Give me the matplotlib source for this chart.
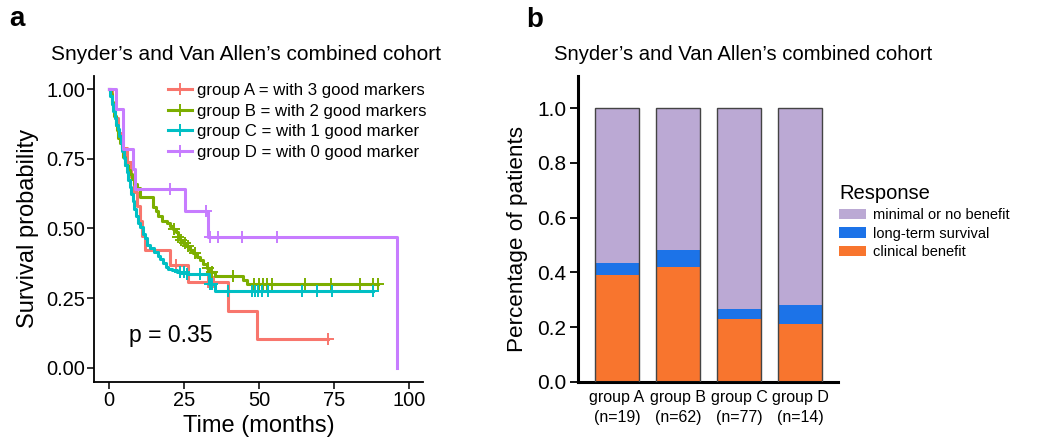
import numpy as np
import matplotlib.pyplot as plt
from matplotlib.lines import Line2D
from matplotlib.patches import Patch

plt.rcParams['font.family'] = ['Liberation Sans', 'DejaVu Sans']

# ---- panel a: Kaplan-Meier steps ----
km_labels = ['group A = with 3 good markers', 'group B = with 2 good markers',
             'group C = with 1 good marker', 'group D = with 0 good marker']
km_colors = ['#F8766D', '#7CAE00', '#00BFC4', '#C77CFF']

times_A = [0, 1, 2, 3, 4.5, 6, 7.5, 8.5, 9.5, 10.3, 11, 12, 20.2, 26.4, 39.8, 49.2]
surv_A = [1, .947, .895, .842, .789, .737, .684, .632, .579, .526, .474, .421, .368, .307, .205, .102]
end_A = 73.1
cens_A = [22.5, 33, 35, 73.1]

times_B = [0, 0.6, 1.0, 1.4, 1.8, 2.2, 2.6, 3.0, 3.6, 4.2, 4.8, 5.3, 6.2, 7.0, 7.6, 8.4, 9.2, 10.3,
           14.8, 15.6, 16.4, 17.8, 19.2, 20.3, 21.4, 22.2, 23.0, 23.8, 24.7, 25.8, 27.0, 28.1,
           29.2, 30.3, 31.4, 32.6, 33.7, 35.3, 44.6, 46.0]
surv_B = [1, .984, .952, .935, .903, .871, .855, .823, .806, .790, .758, .726, .710, .694, .677, .661, .645, .613,
          .578, .561, .545, .528, .518, .508, .497, .486, .470, .459, .447, .436, .423, .411,
          .398, .386, .374, .359, .345, .331, .315, .300]
end_B = 89.8
cens_B = [21.6, 23.1, 24.1, 25.3, 26.4, 28.7, 33.0, 34.5, 41.4, 48.4, 50.0, 51.4, 52.8, 54.4,
          65.5, 74.1, 83.7, 88.1, 89.8]

times_C = [0, 0.5, 1.0, 1.5, 2.0, 2.5, 3.0, 3.5, 4.0, 4.5, 5.0, 5.5, 6.0, 6.5, 7.0, 7.5, 8.0, 8.5,
           9.0, 9.7, 10.5, 11.2, 12.0, 12.8, 13.7, 15.0, 16.2, 17.0, 18.0, 19.0, 19.7, 21.0,
           22.6, 25.9, 33.3, 35.5]
surv_C = [1, .974, .948, .922, .896, .870, .857, .831, .805, .779, .753, .727, .701, .675, .649, .623, .597, .571,
          .545, .519, .506, .480, .467, .441, .428, .415, .402, .389, .376, .363, .356, .350,
          .344, .338, .302, .274]
end_C = 88.0
cens_C = [23.7, 25.0, 26.0, 30.3, 33.6, 34.5, 39.7, 47.6, 48.7, 49.8, 50.9, 53.1, 64.2, 69.2, 74.2, 88.0]

times_D = [0, 2.2, 4.8, 8.0, 8.7, 25.3, 32.9, 96]
surv_D = [1, .929, .786, .714, .643, .563, .469, 0]
end_D = 96
cens_D = [20.5, 32.2, 33.8, 36.4, 44.2, 55.9]

p_text = 'p = 0.35'

# ---- panel b: stacked proportions ----
bar_groups = ['group A\n(n=19)', 'group B\n(n=62)', 'group C\n(n=77)', 'group D\n(n=14)']
clinical = [0.39, 0.42, 0.23, 0.21]
longterm = [0.045, 0.06, 0.035, 0.07]
minimal = [0.565, 0.52, 0.735, 0.72]
resp_labels = ['minimal or no benefit', 'long-term survival', 'clinical benefit']
resp_colors = ['#BBA9D4', '#1C73E8', '#F8752E']

title = 'Snyder\u2019s and Van Allen\u2019s combined cohort'

W, H = 1037, 441
fig = plt.figure(figsize=(W / 100, H / 100), dpi=100)


def fx(px):
    return px / W


def fy(py):
    return 1 - py / H


# panel a
ax = fig.add_axes([fx(94.3), fy(381.7), fx(423) - fx(94.3), fy(76) - fy(381.7)])
groups = [(times_A, surv_A, end_A, cens_A), (times_B, surv_B, end_B, cens_B),
          (times_C, surv_C, end_C, cens_C), (times_D, surv_D, end_D, cens_D)]
for (t, s, e, cz), col in zip(groups, km_colors):
    t = np.array(t, float)
    s = np.array(s, float)
    ax.step(np.append(t, e), np.append(s, s[-1]), where='post', color=col, lw=2.2, zorder=3)
    idx = np.searchsorted(t, cz, side='right') - 1
    ax.plot(cz, s[idx], '+', color=col, ms=8, mew=1.4, zorder=3)

ax.set_xlim(-4.9, 104.7)
ax.set_ylim(-0.05, 1.047)
ax.set_xticks([0, 25, 50, 75, 100])
ax.set_yticks([0, 0.25, 0.5, 0.75, 1.0])
ax.set_yticklabels(['0.00', '0.25', '0.50', '0.75', '1.00'])
for sp in ['top', 'right']:
    ax.spines[sp].set_visible(False)
for sp in ['left', 'bottom']:
    ax.spines[sp].set_linewidth(1.3)
ax.tick_params(labelsize=14.4, length=5, width=1.1, pad=1.5, colors='black')
ax.set_xlabel('Time (months)', fontsize=17)
ax.set_ylabel('Survival probability', fontsize=17)
ax.xaxis.set_label_coords(0.501, -0.108)
ax.yaxis.set_label_coords(-0.168, 0.5)
ax.text(6.7, 0.091, p_text, fontsize=16.6, ha='left', va='baseline')

handles = [Line2D([], [], color=c, lw=2.2, marker='+', ms=8, mew=1.4) for c in km_colors]
ax.legend(handles, km_labels, loc='upper left', bbox_to_anchor=(fx(168), fy(83)),
          bbox_transform=fig.transFigure, frameon=False, fontsize=12.1,
          handlelength=1.4, handletextpad=0.3, labelspacing=0.33, borderpad=0, borderaxespad=0)

# panel b
bx = fig.add_axes([fx(577.7), fy(381.7), fx(837.7) - fx(577.7), fy(76) - fy(381.7)])
x = np.arange(len(bar_groups))
bottom = np.zeros(len(x))
for vals, col in zip([clinical, longterm, minimal], resp_colors[::-1]):
    bx.bar(x, vals, bottom=bottom, width=0.72, color=col, edgecolor='none', zorder=2)
    bottom += np.array(vals)
bx.bar(x, bottom, width=0.72, fill=False, edgecolor='#444444', lw=1.0, zorder=3)
bx.set_xlim(-0.644, 3.618)
bx.set_ylim(0, 1.118)
bx.set_xticks(x)
bx.set_xticklabels(bar_groups, fontsize=11.5, linespacing=1.45)
bx.set_yticks([0, 0.2, 0.4, 0.6, 0.8, 1.0])
bx.set_yticklabels(['0.0', '0.2', '0.4', '0.6', '0.8', '1.0'], fontsize=15)
for sp in ['top', 'right']:
    bx.spines[sp].set_visible(False)
for sp in ['left', 'bottom']:
    bx.spines[sp].set_linewidth(2.2)
bx.tick_params(axis='y', length=6, width=1.3, pad=2)
bx.tick_params(axis='x', length=0, pad=6)
bx.set_ylabel('Percentage of patients', fontsize=16.2)
bx.yaxis.set_label_coords(-0.19, 0.467)

phandles = [Patch(facecolor=c, edgecolor='none') for c in resp_colors]
fig.legend(phandles, resp_labels, title='Response', loc='upper left',
           bbox_to_anchor=(fx(839), fy(184)), frameon=False, fontsize=10.5,
           title_fontsize=14.5, alignment='left', handlelength=1.85, handleheight=0.7,
           handletextpad=0.5, labelspacing=0.33, borderpad=0, borderaxespad=0)

fig.text(fx(246), fy(59.5), title, fontsize=15, ha='center', va='baseline')
fig.text(fx(743), fy(59.5), title, fontsize=14.6, ha='center', va='baseline')
fig.text(fx(9), fy(26), 'a', fontsize=20, fontweight='bold', ha='left', va='baseline')
fig.text(fx(526), fy(27), 'b', fontsize=20, fontweight='bold', ha='left', va='baseline')

fig.savefig('out.png', dpi=100)
